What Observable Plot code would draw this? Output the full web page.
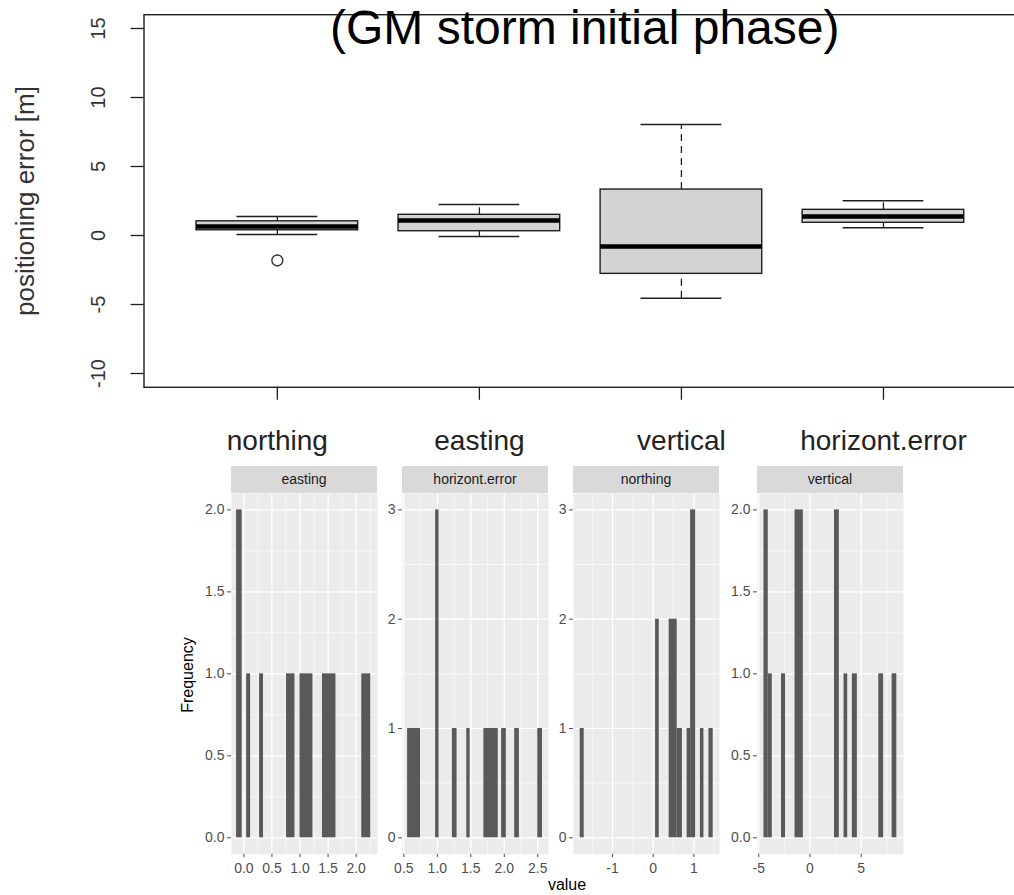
<!DOCTYPE html>
<html>
<head>
<meta charset="utf-8">
<script src="https://cdn.jsdelivr.net/npm/d3@7"></script>
<script src="https://cdn.jsdelivr.net/npm/@observablehq/plot@0.6"></script>
<style>
  html, body { margin: 0; padding: 0; background: white; overflow: hidden; }
  #root { position: relative; width: 1014px; height: 895px; overflow: hidden; background: white;
          font-family: "Liberation Sans", Arial, sans-serif; }
  .abs { position: absolute; }
  .strip { position: absolute; background: #d9d9d9; color: #1a1a1a; font-size: 14px;
           text-align: center; line-height: 27px; height: 27px; }
</style>
</head>
<body>
<div id="root"></div>
<script>
// ---------- Top chart: box plot summaries ----------
const categories   = ["northing", "easting", "vertical", "horizont.error"];
const whiskerLow   = [0.07, -0.07, -4.54, 0.56];
const quartile1    = [0.38, 0.31, -2.78, 0.92];
const medians      = [0.66, 1.09, -0.80, 1.38];
const quartile3    = [1.03, 1.50, 3.33, 1.86];
const whiskerHigh  = [1.38, 2.25, 8.04, 2.51];
const outlierCat   = ["northing"];
const outlierValue = [-1.81];
const topYTicks    = [-10, -5, 0, 5, 10, 15];
const topYDomain   = [-11, 16];
const titleText    = "(GM storm initial phase)";

// ---------- Bottom: histogram bins per facet ----------
const eastingLo  = [-0.13, 0.05, 0.28, 0.76, 1.00, 1.40, 2.10];
const eastingHi  = [-0.03, 0.12, 0.35, 0.91, 1.23, 1.64, 2.26];
const eastingN   = [2, 1, 1, 1, 1, 1, 1];

const horizLo    = [0.556, 0.975, 1.225, 1.44, 1.695, 1.96, 2.155, 2.50];
const horizHi    = [0.750, 1.025, 1.295, 1.49, 1.910, 2.03, 2.225, 2.57];
const horizN     = [1, 3, 1, 1, 1, 1, 1, 1];

const northLo    = [-1.795, 0.059, 0.393, 0.590, 0.834, 0.920, 1.161, 1.370];
const northHi    = [-1.697, 0.148, 0.590, 0.718, 0.920, 1.043, 1.247, 1.475];
const northN     = [1, 2, 2, 1, 1, 3, 1, 1];

const vertLo     = [-4.49, -4.07, -2.78, -1.46, 2.39, 3.32, 4.13, 6.71, 8.01];
const vertHi     = [-4.07, -3.68, -2.39, -0.65, 2.86, 3.68, 4.62, 7.18, 8.47];
const vertN      = [2, 1, 1, 2, 2, 1, 1, 1, 1];

const facetNames = ["easting", "horizont.error", "northing", "vertical"];

const root = document.getElementById("root");
const FONT = "Liberation Sans, Arial, sans-serif";

// ---------- Top box plot ----------
const boxes = categories.map((c, i) => ({
  cat: c, pos: i + 1, lo: whiskerLow[i], q1: quartile1[i], med: medians[i], q3: quartile3[i], hi: whiskerHigh[i]
}));
const outliers = outlierCat.map((c, i) => ({pos: categories.indexOf(c) + 1, value: outlierValue[i]}));
const boxHalf = 0.4, capHalf = 0.2;
const ink = "#1e1e1e";

const topPlot = Plot.plot({
  width: 1014, height: 460,
  marginLeft: 143.5, marginRight: -2.3, marginTop: 14.2, marginBottom: 73.2,
  x: {domain: [0.34, 4.66], axis: null},
  y: {domain: topYDomain, axis: null},
  style: {fontFamily: FONT, background: "transparent", color: ink},
  marks: [
    Plot.ruleX(boxes, {x: "pos", y1: "q3", y2: "hi", stroke: ink, strokeWidth: 1.3, strokeDasharray: "7,5"}),
    Plot.ruleX(boxes, {x: "pos", y1: "lo", y2: "q1", stroke: ink, strokeWidth: 1.3, strokeDasharray: "7,5"}),
    Plot.ruleY(boxes, {y: "hi", x1: d => d.pos - capHalf, x2: d => d.pos + capHalf, stroke: ink, strokeWidth: 1.5}),
    Plot.ruleY(boxes, {y: "lo", x1: d => d.pos - capHalf, x2: d => d.pos + capHalf, stroke: ink, strokeWidth: 1.5}),
    Plot.rect(boxes, {x1: d => d.pos - boxHalf, x2: d => d.pos + boxHalf, y1: "q1", y2: "q3",
                      fill: "#d3d3d3", stroke: ink, strokeWidth: 1.4}),
    Plot.ruleY(boxes, {y: "med", x1: d => d.pos - boxHalf, x2: d => d.pos + boxHalf, stroke: "black", strokeWidth: 4.5}),
    Plot.dot(outliers, {x: "pos", y: "value", r: 5.5, stroke: "#333", strokeWidth: 1.4, fill: "none"}),
    Plot.frame({stroke: ink, strokeWidth: 1.4}),
    Plot.axisY({ticks: topYTicks, tickSize: 13, tickFormat: () => "", label: null, stroke: ink, strokeWidth: 1.3}),
    Plot.text(topYTicks, {y: d => d, frameAnchor: "left", dx: -45, rotate: -90, text: d => String(d),
                          fontSize: 20, textAnchor: "middle", lineAnchor: "middle", fill: "#333"}),
    Plot.text(["positioning error [m]"], {frameAnchor: "left", dx: -118, rotate: -90, text: d => d,
                          fontSize: 26, textAnchor: "middle", lineAnchor: "middle", fill: "#333"}),
    Plot.axisX({ticks: [1, 2, 3, 4], tickSize: 13, tickPadding: 30, tickFormat: i => categories[i - 1],
                label: null, fontSize: 28, stroke: ink, strokeWidth: 1.3, fill: "#222"})
  ]
});
topPlot.style.position = "absolute";
topPlot.style.left = "0px";
topPlot.style.top = "0px";
root.appendChild(topPlot);

const title = document.createElement("div");
title.className = "abs";
title.textContent = titleText;
Object.assign(title.style, {left: "330px", top: "4px", fontSize: "48px", lineHeight: "48px", color: "black", whiteSpace: "nowrap"});
root.appendChild(title);

// ---------- Bottom facets ----------
const panelTop = 493.3, panelH = 360.7, panelW = 146;
const stripH = 27;
const facets = [
  {name: facetNames[0], lo: eastingLo, hi: eastingHi, n: eastingN, left: 231,
   xDomain: [-0.22, 2.38], xTicks: [0, 0.5, 1, 1.5, 2], xMinor: [0.25, 0.75, 1.25, 1.75, 2.25], xFmt: d3.format(".1f"),
   yDomain: [-0.1, 2.1], yTicks: [0, 0.5, 1, 1.5, 2], yMinor: [0.25, 0.75, 1.25, 1.75], yFmt: d3.format(".1f")},
  {name: facetNames[1], lo: horizLo, hi: horizHi, n: horizN, left: 402,
   xDomain: [0.48, 2.66], xTicks: [0.5, 1, 1.5, 2, 2.5], xMinor: [0.75, 1.25, 1.75, 2.25], xFmt: d3.format(".1f"),
   yDomain: [-0.15, 3.15], yTicks: [0, 1, 2, 3], yMinor: [0.5, 1.5, 2.5], yFmt: d3.format("d")},
  {name: facetNames[2], lo: northLo, hi: northHi, n: northN, left: 573,
   xDomain: [-1.96, 1.63], xTicks: [-1, 0, 1], xMinor: [-1.5, -0.5, 0.5, 1.5], xFmt: d3.format("d"),
   yDomain: [-0.15, 3.15], yTicks: [0, 1, 2, 3], yMinor: [0.5, 1.5, 2.5], yFmt: d3.format("d")},
  {name: facetNames[3], lo: vertLo, hi: vertHi, n: vertN, left: 757,
   xDomain: [-5.12, 9.12], xTicks: [-5, 0, 5], xMinor: [-2.5, 2.5, 7.5], xFmt: d3.format("d"),
   yDomain: [-0.1, 2.1], yTicks: [0, 0.5, 1, 1.5, 2], yMinor: [0.25, 0.75, 1.25, 1.75], yFmt: d3.format(".1f")}
];

const mL = 42, mR = 4, mB = 40;
const hyphen = s => String(s).replace("\u2212", "-");

for (const f of facets) {
  const bars = f.lo.map((x1, i) => ({x1, x2: f.hi[i], count: f.n[i]}));
  const p = Plot.plot({
    width: panelW + mL + mR, height: panelH + mB,
    marginLeft: mL, marginRight: mR, marginTop: 0, marginBottom: mB,
    x: {domain: f.xDomain, axis: null},
    y: {domain: f.yDomain, axis: null},
    style: {fontFamily: FONT, background: "transparent"},
    marks: [
      Plot.frame({fill: "#ebebeb"}),
      Plot.gridX(f.xMinor, {stroke: "white", strokeOpacity: 1, strokeWidth: 0.6}),
      Plot.gridY(f.yMinor, {stroke: "white", strokeOpacity: 1, strokeWidth: 0.6}),
      Plot.gridX(f.xTicks, {stroke: "white", strokeOpacity: 1, strokeWidth: 1.2}),
      Plot.gridY(f.yTicks, {stroke: "white", strokeOpacity: 1, strokeWidth: 1.2}),
      Plot.rect(bars, {x1: "x1", x2: "x2", y1: () => 0, y2: "count", fill: "#595959"}),
      Plot.axisY({ticks: f.yTicks, tickSize: 4, tickPadding: 3, tickFormat: d => hyphen(f.yFmt(d)),
                  label: null, fontSize: 14, color: "#4d4d4d"}),
      Plot.axisX({ticks: f.xTicks, tickSize: 3.5, tickPadding: 5, tickFormat: d => hyphen(f.xFmt(d)),
                  label: null, fontSize: 14, color: "#4d4d4d"})
    ]
  });
  p.style.position = "absolute";
  p.style.left = (f.left - mL) + "px";
  p.style.top = panelTop + "px";
  root.appendChild(p);

  const strip = document.createElement("div");
  strip.className = "strip";
  strip.textContent = f.name;
  Object.assign(strip.style, {left: f.left + "px", top: (panelTop - stripH) + "px", width: panelW + "px"});
  root.appendChild(strip);
}

const freq = document.createElement("div");
freq.className = "abs";
freq.textContent = "Frequency";
Object.assign(freq.style, {left: "188px", top: "675px", fontSize: "16px", color: "black",
  transform: "translate(-50%, -50%) rotate(-90deg)", whiteSpace: "nowrap"});
root.appendChild(freq);

const val = document.createElement("div");
val.className = "abs";
val.textContent = "value";
Object.assign(val.style, {left: "567px", top: "885px", fontSize: "16px", color: "black",
  transform: "translate(-50%, -50%)", whiteSpace: "nowrap"});
root.appendChild(val);
</script>
</body>
</html>
